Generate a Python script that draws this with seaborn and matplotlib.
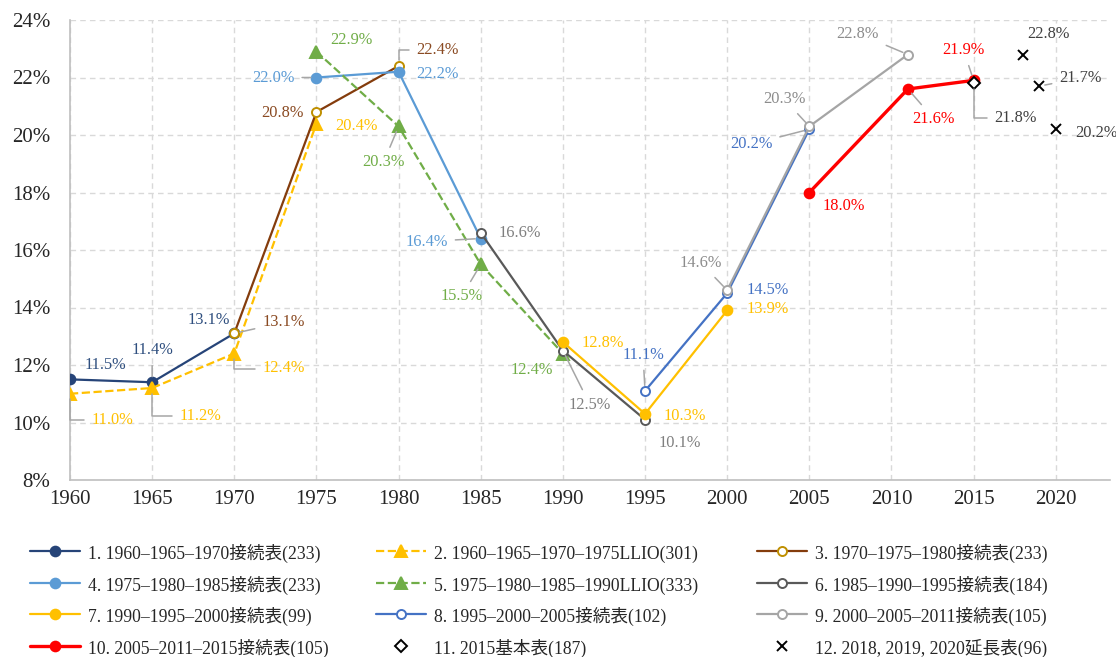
import matplotlib
matplotlib.use("Agg")
import matplotlib.pyplot as plt
import matplotlib.ticker as mtick
import seaborn as sns
import pandas as pd

# データ（％）
years_1 = [1960, 1965, 1970]
vals_1 = [11.5, 11.4, 13.1]
years_2 = [1960, 1965, 1970, 1975]
vals_2 = [11.0, 11.2, 12.4, 20.4]
years_3 = [1970, 1975, 1980]
vals_3 = [13.1, 20.8, 22.4]
years_4 = [1975, 1980, 1985]
vals_4 = [22.0, 22.2, 16.4]
years_5 = [1975, 1980, 1985, 1990]
vals_5 = [22.9, 20.3, 15.5, 12.4]
years_6 = [1985, 1990, 1995]
vals_6 = [16.6, 12.5, 10.1]
years_7 = [1990, 1995, 2000]
vals_7 = [12.8, 10.3, 13.9]
years_8 = [1995, 2000, 2005]
vals_8 = [11.1, 14.5, 20.2]
years_9 = [2000, 2005, 2011]
vals_9 = [14.6, 20.3, 22.8]
years_10 = [2005, 2011, 2015]
vals_10 = [18.0, 21.6, 21.9]
years_11 = [2015]
vals_11 = [21.8]
years_12 = [2018, 2019, 2020]
vals_12 = [22.8, 21.7, 20.2]

labels = [
    "1. 1960–1965–1970接続表(233)",
    "2. 1960–1965–1970–1975LLIO(301)",
    "3. 1970–1975–1980接続表(233)",
    "4. 1975–1980–1985接続表(233)",
    "5. 1975–1980–1985–1990LLIO(333)",
    "6. 1985–1990–1995接続表(184)",
    "7. 1990–1995–2000接続表(99)",
    "8. 1995–2000–2005接続表(102)",
    "9. 2000–2005–2011接続表(105)",
    "10. 2005–2011–2015接続表(105)",
    "11. 2015基本表(187)",
    "12. 2018, 2019, 2020延長表(96)",
]

serif = "Liberation Serif"
fam = [serif, "Noto Sans CJK JP", "DejaVu Sans"]

sns.set_theme(style="white")
plt.rcParams["font.family"] = fam

fig = plt.figure(figsize=(11.16, 6.57), dpi=100)
ax = fig.add_axes([70 / 1116, 1 - 480 / 657, 1040 / 1116, 460 / 657])

GRID = "#D9D9D9"
LEAD = "#A6A6A6"

# 系列の描画設定: (年, 値, 線色, マーカー, 線種, 塗り, 縁色, サイズ, 線幅, ラベル色)
series = [
    (years_1, vals_1, "#264478", "o", "-", "#264478", "#264478", 7, 1.6, "#2F4F7F"),
    (years_2, vals_2, "#FFC000", "^", "--", "#FFC000", "#FFC000", 9, 1.6, "#FFC000"),
    (years_3, vals_3, "#843C0C", "o", "-", "white", "#BF8F00", 6.5, 1.6, "#8A4A22"),
    (years_4, vals_4, "#5B9BD5", "o", "-", "#5B9BD5", "#5B9BD5", 7, 1.6, "#5B9BD5"),
    (years_5, vals_5, "#70AD47", "^", "--", "#70AD47", "#70AD47", 9, 1.6, "#70AD47"),
    (years_6, vals_6, "#595959", "o", "-", "white", "#595959", 6.5, 1.6, "#7F7F7F"),
    (years_7, vals_7, "#FFC000", "o", "-", "#FFC000", "#FFC000", 7, 1.6, "#FFC000"),
    (years_8, vals_8, "#4472C4", "o", "-", "white", "#4472C4", 6.5, 1.6, "#4472C4"),
    (years_9, vals_9, "#A5A5A5", "o", "-", "white", "#A5A5A5", 6.5, 1.6, "#8C8C8C"),
    (years_10, vals_10, "#FF0000", "o", "-", "#FF0000", "#FF0000", 7, 2.4, "#FF0000"),
    (years_11, vals_11, "black", "D", "", "white", "black", 6, 1.4, "#404040"),
    (years_12, vals_12, "black", "x", "", "black", "black", 7, 1.4, "#404040"),
]

# ラベル位置（点からのピクセルずれ, 引出線）
layout = [
    [(35, 14, None), (0, 32, "s"), (-26, 13, None)],
    [(42, -26, "e"), (48, -28, "e"), (49, -15, "e"), (40, -2, None)],
    [(49, 11, "s"), (-34, -1, None), (39, 16, "e")],
    [(-43, 0, "s"), (39, -2, None), (-54, -3, "s")],
    [(35, 12, None), (-15, -36, "s"), (-19, -32, "s"), (-31, -17, None)],
    [(39, 0, None), (27, -54, "s"), (35, -23, None)],
    [(40, -1, None), (40, -2, None), (41, 1, None)],
    [(-2, 36, "s"), (41, 3, None), (-58, -15, "s")],
    [(-26, 27, "s"), (-25, 27, "s"), (-50, 21, "s")],
    [(34, -14, None), (26, -30, "s"), (-10, 30, "s")],
    [(42, -35, "e")],
    [(26, 20, None), (41, 8, "s"), (41, -4, None)],
]

for (xs, ys, col, mk, ls, fc, ec, ms, lw, lc), lab, lay in zip(series, labels, layout):
    df = pd.DataFrame({"year": xs, "val": ys})
    if ls:
        sns.lineplot(data=df, x="year", y="val", ax=ax, color=col, linestyle=ls,
                     linewidth=lw, marker=mk, markersize=ms, markerfacecolor=fc,
                     markeredgecolor=ec, markeredgewidth=1.4, label=lab,
                     dashes=False if ls == "-" else (3.5, 2.5), zorder=3)
    else:
        ax.plot(df["year"], df["val"], linestyle="none", marker=mk, markersize=ms,
                markerfacecolor=fc, markeredgecolor=ec, markeredgewidth=lw,
                label=lab, zorder=4)
    for x, y, (dx, dy, lead) in zip(xs, ys, lay):
        kw = {}
        if lead:
            cs = "angle,angleA=0,angleB=90,rad=0" if lead == "e" else "arc3"
            kw["arrowprops"] = dict(arrowstyle="-", color=LEAD, lw=1.1,
                                    shrinkA=3, shrinkB=4, connectionstyle=cs)
        ax.annotate(f"{y:.1f}%", xy=(x, y), xytext=(dx, dy),
                    textcoords="offset pixels", ha="center", va="center",
                    fontsize=11.8, color=lc, family=serif, zorder=5, **kw)

if ax.get_legend() is not None:
    ax.get_legend().remove()

ax.set_xlim(1960, 2023.3)
ax.set_ylim(8, 24)
ax.set_xticks(range(1960, 2021, 5))
ax.set_yticks(range(8, 25, 2))
ax.yaxis.set_major_formatter(mtick.FuncFormatter(lambda v, p: f"{v:.0f}%"))
ax.set_xlabel("")
ax.set_ylabel("")
ax.grid(True, color=GRID, linestyle=(0, (4, 3)), linewidth=1)
ax.set_axisbelow(True)
for s in ["top", "right"]:
    ax.spines[s].set_visible(False)
for s in ["left", "bottom"]:
    ax.spines[s].set_color("#BFBFBF")
    ax.spines[s].set_linewidth(1.2)
ax.tick_params(axis="both", length=0, labelsize=15)
ax.tick_params(axis="y", pad=14)
ax.tick_params(axis="x", pad=7)
for t in ax.get_xticklabels() + ax.get_yticklabels():
    t.set_family(serif)

# 凡例は3列を個別に配置
h, l = ax.get_legend_handles_labels()
col_x = [30, 376, 757]
for c in range(3):
    idx = [c, c + 3, c + 6, c + 9]
    fig.legend([h[i] for i in idx], [l[i] for i in idx], loc="upper left",
               bbox_to_anchor=(col_x[c] / 1116, 1 - 543 / 657),
               frameon=False, handlelength=2.85, handletextpad=0.45,
               handleheight=1.45, labelspacing=0.6, borderpad=0,
               borderaxespad=0, prop={"family": fam, "size": 12.7})

fig.savefig("out.png", dpi=100)
